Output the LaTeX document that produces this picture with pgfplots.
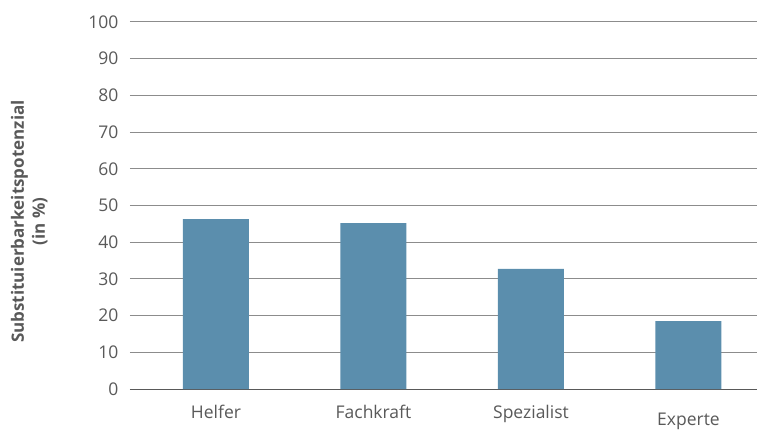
\documentclass[border=0pt]{standalone}
\usepackage{pgfplots}
\pgfplotsset{compat=1.18}
\usepackage{fontspec}
\setmainfont{Open Sans}
\definecolor{barc}{HTML}{5B8EAD}
\definecolor{txt}{HTML}{595959}
\definecolor{gridc}{HTML}{8C8C8C}
\begin{document}
\begin{tikzpicture}
\useasboundingbox (-130pt,-40pt) rectangle (627pt,389pt);
\begin{axis}[
  at={(0,0)}, anchor=south west,
  scale only axis, width=627pt, height=367pt,
  xmin=-0.546, xmax=3.435, ymin=0, ymax=100,
  ytick={0,10,...,100},
  xtick={0,1,2,3},
  xticklabels={Helfer,Fachkraft,Spezialist,\raisebox{-7pt}[\height]{Experte}},
  major tick length=0pt,
  ymajorgrids, grid style={gridc, line width=1pt},
  axis y line*=left,
  y axis line style={draw=none},
  axis x line*=bottom,
  x axis line style={txt, line width=1pt, -},
  /pgf/number format/assume math mode=true,
  tick label style={font=\fontsize{17.5}{20}\selectfont, text=txt},
  yticklabel style={anchor=east, xshift=-8pt},
  xticklabel style={anchor=north, yshift=-13pt},
  ylabel={Substituierbarkeitspotenzial\\(in \%)},
  ylabel style={at={(axis description cs:-0.131,0.456)}, anchor=south, rotate=0, align=center, inner sep=0pt, font=\fontsize{17}{21}\selectfont\bfseries, text=txt},
  clip=false,
]
\addplot[ybar, bar width=66pt, fill=barc, draw=none] coordinates {(0,46.3) (1,45.2) (2,32.7) (3,18.5)};
\end{axis}
\end{tikzpicture}
\end{document}
